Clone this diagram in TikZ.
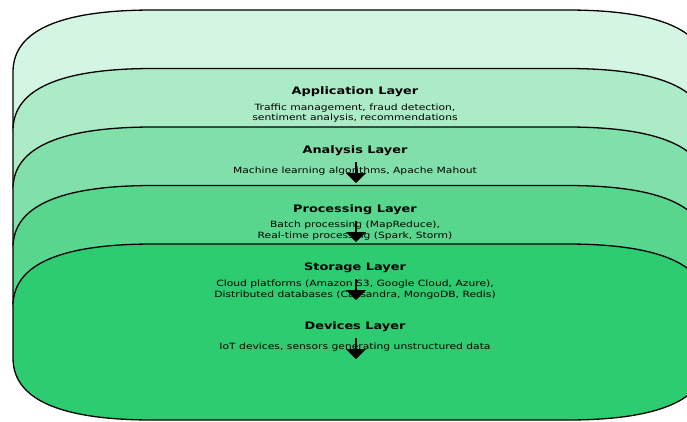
\documentclass[tikz,border=0pt]{standalone}
\usepackage{fontspec}
\setmainfont{DejaVu Sans}[FakeStretch=1.25]
\usetikzlibrary{arrows.meta}
\definecolor{lay1}{HTML}{D5F5E3}
\definecolor{lay2}{HTML}{ABEBC6}
\definecolor{lay3}{HTML}{81E0AA}
\definecolor{lay4}{HTML}{58D68D}
\definecolor{lay5}{HTML}{2ECC71}
% rounded box with quadratic corners: rx = 140, ry = 62, left 13, right 707, height 176
\newcommand\LayerShape[2]{%
  \filldraw[layer, fill=#2] (153,-#1) -- (567,-#1)
    .. controls (660.33,-#1) and (707,-#1-20.67) .. (707,-#1-62) -- (707,-#1-114)
    .. controls (707,-#1-155.33) and (660.33,-#1-176) .. (567,-#1-176) -- (153,-#1-176)
    .. controls (59.67,-#1-176) and (13,-#1-155.33) .. (13,-#1-114) -- (13,-#1-62)
    .. controls (13,-#1-20.67) and (59.67,-#1) .. (153,-#1) -- cycle;}
\begin{document}
\begin{tikzpicture}[x=1pt,y=1pt,
  layer/.style={draw=black,line width=1.3pt},
  ttl/.style={font=\bfseries\fontsize{10.3}{12}\selectfont, inner sep=0pt, anchor=center},
  body/.style={font=\fontsize{8.6}{10.3}\selectfont, align=center, inner sep=0pt, anchor=center},
  flow/.style={-{Triangle[length=10pt,width=20pt]}, line width=1.8pt}]
\useasboundingbox (0,0) rectangle (687,-421);
\clip (0,0) rectangle (687,-421);
\LayerShape{10}{lay1}
\LayerShape{68.5}{lay2}
\LayerShape{127}{lay3}
\LayerShape{185.5}{lay4}
\LayerShape{244}{lay5}

\node[ttl] (t1) at (355,-92) {Application Layer};
\node[body] (b1) at (355,-113) {Traffic management, fraud detection,\\sentiment analysis, recommendations};
\node[ttl] (t2) at (355,-151) {Analysis Layer};
\node[body] (b2) at (355,-171) {Machine learning algorithms, Apache Mahout};
\node[ttl] (t3) at (355,-209.5) {Processing Layer};
\node[body] (b3) at (355,-230.5) {Batch processing (MapReduce),\\Real-time processing (Spark, Storm)};
\node[ttl] (t4) at (355,-268) {Storage Layer};
\node[body] (b4) at (355,-289.5) {Cloud platforms (Amazon S3, Google Cloud, Azure),\\Distributed databases (Cassandra, MongoDB, Redis)};
\node[ttl] (t5) at (355,-327) {Devices Layer};
\node[body] (b5) at (355,-347) {IoT devices, sensors generating unstructured data};

\coordinate (s2) at (356,-162); \coordinate (e2) at (356,-183);
\coordinate (s3) at (356,-220.5); \coordinate (e3) at (356,-242);
\coordinate (s4) at (356,-279); \coordinate (e4) at (356,-300);
\coordinate (s5) at (356,-337.5); \coordinate (e5) at (356,-359);
\draw[flow] (s2) -- (e2);
\draw[flow] (s3) -- (e3);
\draw[flow] (s4) -- (e4);
\draw[flow] (s5) -- (e5);
\end{tikzpicture}
\end{document}
